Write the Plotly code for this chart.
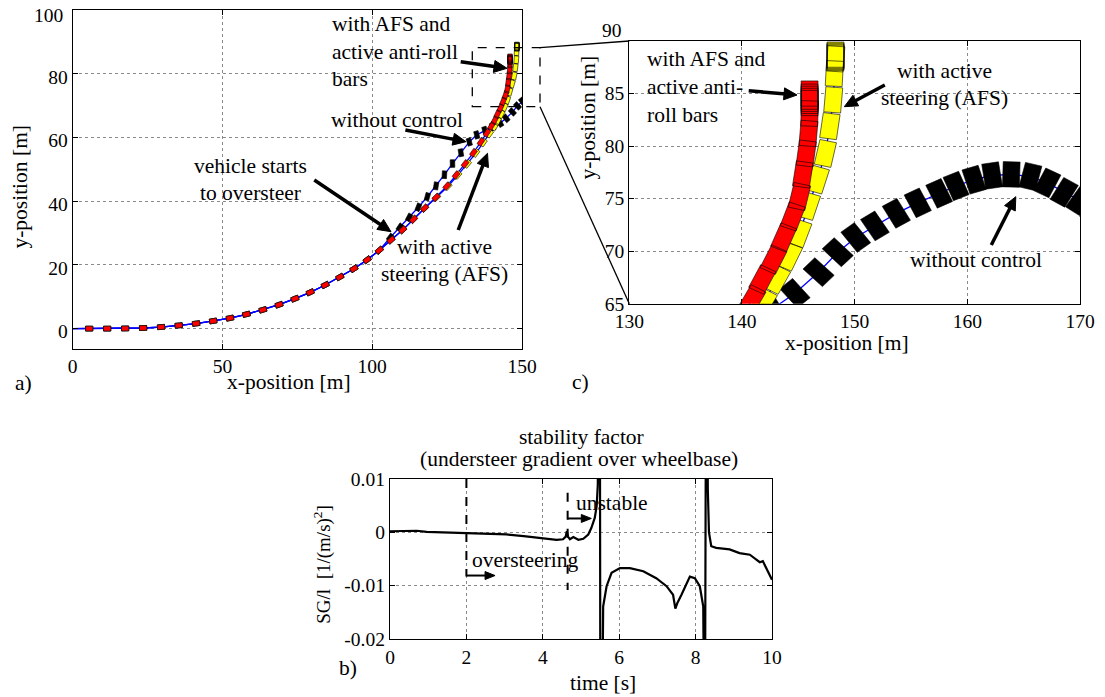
import numpy as np
import plotly.graph_objects as go

W, H = 1105, 697
OFF = 8  # page body margin of the browser
FONT = "Times New Roman, Liberation Serif, DejaVu Serif, serif"
TXT = 21.5
TICK = 19.5

# ---------------- data ----------------
start_x, start_y = 0.0, 0.0

# with AFS and active anti-roll bars (red)
red_x = [5.5, 11.5, 17.5, 23.5, 29.5, 35.4, 41.2, 46.9, 52.5, 58.0, 63.5, 68.9, 74.2, 79.3, 84.3,
         89.2, 93.9, 98.3, 102.4, 106.3, 110.2, 113.8, 117.5, 121.3, 124.9, 128.0, 131.0, 133.8,
         136.3, 138.3, 139.8, 140.9, 141.8, 142.8, 143.7, 144.5, 145.1, 145.4, 145.7, 145.9, 146.0,
         146.0, 146.0, 146.0, 146.0, 146.0]
red_y = [0.0, 0.0, 0.05, 0.2, 0.5, 1.0, 1.6, 2.4, 3.3, 4.5, 5.9, 7.5, 9.4, 11.4, 13.7,
         16.2, 18.8, 21.6, 24.6, 27.8, 31.0, 34.3, 37.8, 41.2, 44.7, 48.2, 51.7, 55.2,
         58.6, 61.4, 63.6, 65.4, 67.3, 69.2, 71.3, 73.3, 75.2, 77.3, 79.3, 81.2, 83.1,
         84.1, 84.3, 84.5, 84.7, 85.0]

# with active steering AFS (yellow)
yel_x = [5.5, 11.5, 17.5, 23.5, 29.5, 35.4, 41.2, 46.9, 52.5, 58.0, 63.5, 68.9, 74.2, 79.3, 84.3,
         89.2, 93.9, 98.3, 102.4, 106.3, 110.2, 113.8, 117.5, 121.5, 125.3, 128.6, 131.8, 134.6,
         137.1, 139.2, 140.9, 141.9, 143.1, 144.2, 145.1, 145.9, 146.7, 147.4, 147.8, 148.1, 148.2,
         148.3, 148.3, 148.3, 148.3, 148.3]
yel_y = [0.0, 0.0, 0.05, 0.2, 0.5, 1.0, 1.6, 2.4, 3.3, 4.5, 5.9, 7.5, 9.4, 11.4, 13.7,
         16.2, 18.8, 21.6, 24.6, 27.8, 31.0, 34.3, 37.8, 41.2, 44.7, 48.2, 51.7, 55.1,
         58.4, 61.2, 63.4, 65.1, 67.3, 69.5, 71.7, 74.3, 76.8, 79.3, 81.9, 84.4, 86.9,
         88.3, 88.4, 88.5, 88.6, 88.7]

# without control (black)
nc_x = [5.5, 11.5, 17.5, 23.5, 29.5, 35.4, 41.2, 46.9, 52.5, 58.0, 63.5, 68.9, 74.2, 79.3, 84.3,
        89.2, 93.9, 98.3, 102.4, 106.0, 109.2, 112.3, 115.4, 118.4, 121.3, 124.1, 126.8, 129.6,
        132.4, 134.9, 137.6, 140.2, 142.7, 144.7, 146.8, 148.5, 150.1, 151.8, 153.7, 155.6, 157.5,
        159.0, 160.6, 162.2, 163.9, 165.6, 167.1, 168.6, 170.0, 171.3]
nc_y = [0.0, 0.0, 0.05, 0.2, 0.5, 1.0, 1.6, 2.4, 3.3, 4.5, 5.9, 7.5, 9.4, 11.4, 13.7,
        16.2, 18.8, 21.6, 24.6, 28.6, 31.8, 34.9, 38.1, 41.4, 44.8, 48.3, 51.8, 55.2,
        58.6, 60.8, 62.2, 63.4, 64.5, 66.0, 68.0, 69.9, 71.3, 72.4, 73.6, 74.6, 75.5,
        76.2, 76.8, 77.2, 77.3, 77.1, 76.5, 75.6, 74.8, 73.8]
# body slip angle (deg) between vehicle heading and path direction
nc_slip = [0] * 19 + [5, 10, 15, 20, 25, 30, 35, 40, 50, 60, 70, 80, 85, 90] + [90] * 17

# stability factor SG/l  [1/(m/s)^2] vs time
sf_t = [0.0, 0.4, 0.7, 0.96, 1.5, 2.0, 2.5, 3.05, 3.5, 4.0, 4.36, 4.53, 4.6, 4.63, 4.66, 4.71,
        4.8, 4.93, 5.06, 5.19, 5.27, 5.36, 5.41, 5.44, 5.46, 5.49, 5.51, 5.54, 5.58, 5.67, 5.8,
        6.02, 6.28, 6.63, 6.97, 7.24, 7.41, 7.47, 7.52, 7.63, 7.76, 7.85, 7.98, 8.11, 8.2, 8.24,
        8.28, 8.32, 8.35, 8.41, 8.54, 8.89, 9.15, 9.42, 9.59, 9.68, 9.76, 10.0]
sf_v = [0.0002, 0.0002, 0.0003, 0.0001, 0.0, -0.0001, -0.0002, -0.0004, -0.0007, -0.0011,
        -0.0014, -0.0013, -0.0008, 0.0002, -0.0008, -0.0013, -0.0009, -0.0014, -0.0012,
        -0.0004, 0.0008, 0.0027, 0.0049, 0.009, 0.05, 0.05, -0.05, -0.05, -0.0139, -0.0101,
        -0.0076, -0.0067, -0.0067, -0.0073, -0.0086, -0.0101, -0.0117, -0.0143, -0.0133,
        -0.0117, -0.0095, -0.0083, -0.0086, -0.0101, -0.0139, -0.05, 0.05, 0.008, 0.0,
        -0.0026, -0.0029, -0.0032, -0.0039, -0.0042, -0.0051, -0.0056, -0.0054, -0.0089]

# markers of regions in b)
oversteer_t = 2.0
unstable_t = 4.65

# tick labels
a_xticks = [0, 50, 100, 150]
a_yticks = [0, 20, 40, 60, 80, 100]
c_xticks = [130, 140, 150, 160, 170]
c_yticks = [65, 70, 75, 80, 85, 90]
b_xticks = [0, 2, 4, 6, 8, 10]
b_yticks = [-0.02, -0.01, 0, 0.01]
b_ylabels = ["-0.02", "-0.01", "0", "0.01"]

VEH_L, VEH_W = 2.4, 1.5

# ---------------- layout geometry (screen pixels) ----------------
A_BOX = (72.7, 522.0, 10.0, 348.7)     # left, right, top, bottom
C_BOX = (629.3, 1080.0, 41.0, 303.7)
B_BOX = (390.0, 772.0, 479.0, 639.0)
B_XR, B_YR = (0, 10), (-0.02, 0.01)

FW, FH = W - OFF, H - OFF


# ---------------- helpers ----------------
def heading(x, y):
    x = np.asarray(x, float)
    y = np.asarray(y, float)
    return np.arctan2(np.gradient(y), np.gradient(x))


def rects(x, y, yaw):
    xs, ys = [], []
    corners = [(VEH_L / 2, VEH_W / 2), (-VEH_L / 2, VEH_W / 2), (-VEH_L / 2, -VEH_W / 2),
               (VEH_L / 2, -VEH_W / 2), (VEH_L / 2, VEH_W / 2)]
    for xi, yi, a in zip(x, y, yaw):
        c, s = np.cos(a), np.sin(a)
        for u, v in corners:
            xs.append(xi + u * c - v * s)
            ys.append(yi + u * s + v * c)
        xs.append(None)
        ys.append(None)
    return xs, ys


def px(v):
    return (v - OFF) / FW


def py(v):
    return 1 - (v - OFF) / FH


def b_px(t, v):
    l, r, t0, b = B_BOX
    return (l + (t - B_XR[0]) / (B_XR[1] - B_XR[0]) * (r - l),
            b - (v - B_YR[0]) / (B_YR[1] - B_YR[0]) * (b - t0))


fig = go.Figure()

red_yaw = heading(red_x, red_y)
yel_yaw = heading(yel_x, yel_y)
nc_yaw = heading(nc_x, nc_y) + np.radians(nc_slip)

for xa, ya in (("x", "y"), ("x2", "y2")):
    for tx, ty in ((nc_x, nc_y), (yel_x, yel_y), (red_x, red_y)):
        fig.add_trace(go.Scatter(x=[start_x] + list(tx), y=[start_y] + list(ty), mode="lines",
                                 line=dict(color="#0000ff", width=1.3), xaxis=xa, yaxis=ya,
                                 showlegend=False, hoverinfo="skip"))
    for tx, ty, yaw, col in ((nc_x, nc_y, nc_yaw, "#000000"), (yel_x, yel_y, yel_yaw, "#ffff00"),
                             (red_x, red_y, red_yaw, "#ff0000")):
        rx, ry = rects(tx, ty, yaw)
        fig.add_trace(go.Scatter(x=rx, y=ry, mode="lines", fill="toself", fillcolor=col,
                                 line=dict(color="#000000", width=0.6), xaxis=xa, yaxis=ya,
                                 showlegend=False, hoverinfo="skip"))

# b) stability factor
fig.add_trace(go.Scatter(x=sf_t, y=sf_v, mode="lines", line=dict(color="black", width=2.2),
                         xaxis="x3", yaxis="y3", showlegend=False, hoverinfo="skip"))
fig.add_trace(go.Scatter(x=[oversteer_t, oversteer_t], y=[0.01, -0.0083], mode="lines",
                         line=dict(color="black", width=2, dash="dash"),
                         xaxis="x3", yaxis="y3", showlegend=False, hoverinfo="skip"))
fig.add_trace(go.Scatter(x=[unstable_t, unstable_t], y=[0.0074, -0.0108], mode="lines",
                         line=dict(color="black", width=2, dash="dash"),
                         xaxis="x3", yaxis="y3", showlegend=False, hoverinfo="skip"))

axis_common = dict(showline=True, linecolor="black", linewidth=1.3, mirror="ticks",
                   ticks="inside", ticklen=5, tickcolor="black", showgrid=True,
                   gridcolor="#8a8a8a", griddash="dot", gridwidth=1, zeroline=False,
                   automargin=False, ticklabeloverflow="allow",
                   tickfont=dict(family=FONT, size=TICK, color="black"))

# top labels drawn separately (lifted / kept inside the page)
c_ylabels = [str(v) for v in c_yticks[:-1]] + [""]
a_ylabels = [str(v) for v in a_yticks[:-1]] + [""]

fig.update_layout(
    width=FW, height=FH, margin=dict(l=0, r=0, t=0, b=0, autoexpand=False),
    paper_bgcolor="white", plot_bgcolor="white",
    font=dict(family=FONT, size=TICK, color="black"),
    xaxis=dict(domain=[px(A_BOX[0]), px(A_BOX[1])], range=[0, 150], anchor="y",
               tickvals=a_xticks, **axis_common),
    yaxis=dict(domain=[py(A_BOX[3]), py(A_BOX[2])], range=[-6.3, 100], anchor="x",
               tickvals=a_yticks, ticktext=a_ylabels, ticklabelshift=3, **axis_common),
    xaxis2=dict(domain=[px(C_BOX[0]), px(C_BOX[1])], range=[130, 170], anchor="y2",
                tickvals=c_xticks, **axis_common),
    yaxis2=dict(domain=[py(C_BOX[3]), py(C_BOX[2])], range=[65, 90], anchor="x2",
                tickvals=c_yticks, ticktext=c_ylabels, **axis_common),
    xaxis3=dict(domain=[px(B_BOX[0]), px(B_BOX[1])], range=list(B_XR), anchor="y3",
                tickvals=b_xticks, **axis_common),
    yaxis3=dict(domain=[py(B_BOX[3]), py(B_BOX[2])], range=list(B_YR), anchor="x3",
                tickvals=b_yticks, ticktext=b_ylabels, **axis_common),
)

ann = []
shapes = []


def text(x, y, s, anchor="left", size=TXT, angle=0):
    ann.append(dict(x=px(x), y=py(y), xref="paper", yref="paper", text=s, showarrow=False,
                    xanchor=anchor, yanchor="middle", textangle=angle,
                    font=dict(family=FONT, size=size, color="black")))


def arrow(x0, y0, x1, y1, width=3.5, head=13, hw=6):
    d = np.array([x1 - x0, y1 - y0], float)
    n = np.hypot(*d)
    u = d / n
    v = np.array([-u[1], u[0]])
    base = np.array([x1, y1]) - u * head
    shapes.append(dict(type="line", xref="paper", yref="paper", x0=px(x0), y0=py(y0),
                       x1=px(base[0] + u[0] * 2), y1=py(base[1] + u[1] * 2),
                       line=dict(color="black", width=width)))
    p1 = base + v * hw
    p2 = base - v * hw
    path = "M {} {} L {} {} L {} {} Z".format(px(x1), py(y1), px(p1[0]), py(p1[1]),
                                              px(p2[0]), py(p2[1]))
    shapes.append(dict(type="path", xref="paper", yref="paper", path=path,
                       fillcolor="black", line=dict(color="black", width=1)))


# a) texts
text(65, 15.5, str(a_yticks[-1]), "right", size=TICK)
text(330, 24, "with AFS and")
text(330, 52, "active anti-roll")
text(330, 79, "bars")
arrow(460.7, 61.7, 507, 68.3)
text(328.6, 120, "without control")
arrow(405.4, 130, 466, 141.7)
text(250.5, 165.7, "vehicle starts", "center")
text(250.5, 193.3, "to oversteer", "center")
arrow(314.3, 180, 391, 231.7)
text(444, 246.7, "with active", "center")
text(444, 274.3, "steering (AFS)", "center")
arrow(458.2, 230, 487.5, 153.3)
text(19.6, 187, "y-position [m]", "center", angle=-90)
text(289, 381.7, "x-position [m]", "center")
text(23, 383, "a)", "center")

# c) texts
text(611.7, 30.5, str(c_yticks[-1]), "center", size=TICK)
text(644.7, 59.3, "with AFS and")
text(644.7, 87.3, "active anti-")
text(644.7, 115, "roll bars")
arrow(748.7, 90.7, 797, 95)
text(944, 70.7, "with active", "center")
text(944, 97.7, "steering (AFS)", "center")
arrow(884.8, 85, 844.3, 106.7)
text(976.5, 260, "without control", "center")
arrow(991.3, 245, 1015.8, 196.7)
text(587, 117.5, "y-position [m]", "center", angle=-90)
text(847, 342.5, "x-position [m]", "center")
text(580, 381.7, "c)", "center")

# b) texts
text(581, 436.5, "stability factor", "center")
text(579, 458.5, "(understeer gradient over wheelbase)", "center")
text(321.7, 564, "SG/l  [1/(m/s)<sup>2</sup>]", "center", size=19, angle=-90)
text(603.3, 683.3, "time [s]", "center")
text(348.3, 668.3, "b)", "center")

ann.append(dict(x=2.09, y=-0.00525, xref="x3", yref="y3", text="oversteering", showarrow=False,
                xanchor="left", yanchor="middle", font=dict(family=FONT, size=TXT, color="black")))
ann.append(dict(x=4.82, y=0.0055, xref="x3", yref="y3", text="unstable", showarrow=False,
                xanchor="left", yanchor="middle", font=dict(family=FONT, size=TXT, color="black")))

# region arrows in b)
x0, y0 = b_px(oversteer_t, -0.0081)
x1, _ = b_px(2.75, -0.0081)
arrow(x0, y0, x1, y0, width=2, head=10, hw=4)
x0, y0 = b_px(unstable_t, 0.0026)
x1, _ = b_px(5.27, 0.0026)
arrow(x0, y0, x1, y0, width=2, head=10, hw=4)

# zoom box and connectors (figure coordinates)
shapes += [
    dict(type="rect", xref="paper", yref="paper", x0=px(472.3), x1=px(540), y0=py(106.7),
         y1=py(47.7), line=dict(color="black", width=1.3, dash="dash")),
    dict(type="line", xref="paper", yref="paper", x0=px(540), y0=py(47.7), x1=px(C_BOX[0]),
         y1=py(C_BOX[2]), line=dict(color="black", width=1.3)),
    dict(type="line", xref="paper", yref="paper", x0=px(540), y0=py(106.7), x1=px(C_BOX[0]),
         y1=py(C_BOX[3]), line=dict(color="black", width=1.3)),
]

fig.update_layout(annotations=ann, shapes=shapes)

fig.write_html("out.html")
